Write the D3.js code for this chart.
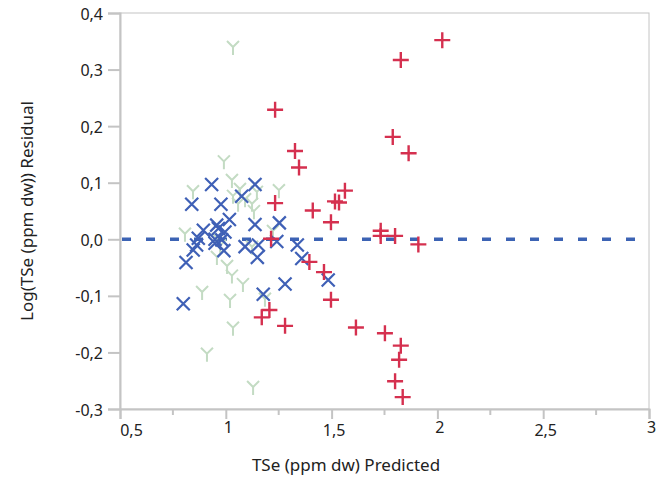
<!DOCTYPE html>
<html>
<head>
<meta charset="utf-8">
<script src="https://cdn.jsdelivr.net/npm/d3@7"></script>
<style>
  body { margin: 0; background: #fff; }
  svg text { font-family: "Noto Sans", "Open Sans", sans-serif; fill: #222; }
</style>
</head>
<body>
<div id="chart"></div>
<script>
// predicted TSe (x) and log residual (y)
const redX = [2.023, 1.827, 1.233, 1.789, 1.327, 1.864, 1.346, 1.563, 1.516, 1.535,
  1.233, 1.411, 1.497, 1.732, 1.732, 1.800, 1.910, 1.214, 1.395, 1.464,
  1.497, 1.206, 1.170, 1.280, 1.615, 1.752, 1.827, 1.819, 1.800, 1.836];
const redY = [0.352, 0.317, 0.229, 0.181, 0.156, 0.152, 0.127, 0.086, 0.067, 0.065,
  0.064, 0.051, 0.030, 0.015, 0.006, 0.006, -0.009, 0.001, -0.040, -0.058,
  -0.107, -0.125, -0.138, -0.153, -0.156, -0.166, -0.188, -0.213, -0.251, -0.279];

const blueX = [0.933, 1.138, 0.839, 0.977, 1.075, 1.017, 1.138, 1.253, 0.894, 0.957,
  0.965, 0.996, 0.870, 0.949, 0.981, 0.862, 0.846, 0.812, 0.949, 0.991,
  1.091, 1.154, 1.149, 1.241, 1.338, 1.359, 1.280, 1.177, 0.799, 1.484];
const blueY = [0.097, 0.097, 0.062, 0.062, 0.076, 0.035, 0.026, 0.029, 0.016, 0.025,
  0.019, 0.013, 0.002, 0.000, -0.001, -0.010, -0.019, -0.041, -0.007, -0.020,
  -0.013, -0.010, -0.032, -0.004, -0.010, -0.034, -0.079, -0.097, -0.114, -0.072];

const greenX = [1.034, 0.991, 1.029, 1.067, 0.845, 1.147, 1.251, 1.034, 1.058, 1.124,
  1.133, 1.091, 0.807, 1.223, 0.963, 0.973, 1.124, 0.958, 1.006, 1.029,
  1.081, 0.888, 1.020, 1.185, 1.034, 0.911, 1.129];
const greenY = [0.338, 0.136, 0.103, 0.087, 0.083, 0.082, 0.085, 0.075, 0.061, 0.061,
  0.048, 0.069, 0.008, 0.013, -0.001, -0.013, -0.015, -0.033, -0.049, -0.066,
  -0.081, -0.095, -0.109, -0.107, -0.158, -0.204, -0.263];

const xTicks = [0.5, 1, 1.5, 2, 2.5, 3];
const xMinor = [0.75, 1.25, 1.75, 2.25, 2.75];
const yTicks = [-0.3, -0.2, -0.1, 0, 0.1, 0.2, 0.3, 0.4];

const width = 658, height = 479;
const margin = {top: 13, right: 9, bottom: 70, left: 120};

const svg = d3.select("#chart").append("svg")
  .attr("width", width)
  .attr("height", height);

const x = d3.scaleLinear().domain([0.5, 3]).range([margin.left, width - margin.right]);
const y = d3.scaleLinear().domain([-0.3, 0.4]).range([height - margin.bottom, margin.top]);

const fmt = v => d3.format(".1f")(v).replace(".", ",").replace("−", "-");
const fmtX = v => String(v).replace(".", ",");
const axisColor = "#c4c4c4";

// frame
svg.append("rect")
  .attr("x", x(0.5)).attr("y", y(0.4))
  .attr("width", x(3) - x(0.5)).attr("height", y(-0.3) - y(0.4))
  .attr("fill", "none").attr("stroke", axisColor).attr("stroke-width", 1);

// y axis
const yAxis = d3.axisLeft(y).tickValues(yTicks).tickSize(12).tickPadding(5).tickFormat(fmt);
const yG = svg.append("g").attr("transform", `translate(${x(0.5)},0)`).call(yAxis);
yG.select(".domain").attr("stroke", axisColor).attr("stroke-width", 2);
yG.selectAll(".tick line").attr("stroke", axisColor).attr("stroke-width", 2);
yG.selectAll(".tick text").attr("font-size", 16).attr("fill", "#222").attr("dy", "0.38em")
  .style("font-family", "'Noto Sans', sans-serif");

// x axis
const xAxis = d3.axisBottom(x).tickValues(xTicks).tickSize(10).tickPadding(6).tickFormat(fmtX);
const xG = svg.append("g").attr("transform", `translate(0,${y(-0.3)})`).call(xAxis);
xG.select(".domain").attr("stroke", axisColor).attr("stroke-width", 2);
xG.selectAll(".tick line").attr("stroke", axisColor).attr("stroke-width", 2);
xG.selectAll(".tick text").attr("font-size", 16).attr("fill", "#222")
  .style("font-family", "'Noto Sans', sans-serif")
  .attr("dx", d => d === 0.5 ? 11 : 2)
  .attr("dy", d => Number.isInteger(d) ? "0.5em" : "0.71em");

svg.append("g").selectAll("line").data(xMinor).join("line")
  .attr("x1", d => x(d)).attr("x2", d => x(d))
  .attr("y1", y(-0.3)).attr("y2", y(-0.3) + 6)
  .attr("stroke", axisColor).attr("stroke-width", 2);

// axis titles
svg.append("text")
  .attr("x", 346).attr("y", 471)
  .attr("text-anchor", "middle").attr("font-size", 17)
  .text("TSe (ppm dw) Predicted");
svg.append("text")
  .attr("transform", `translate(33,${y(0.05)}) rotate(-90)`)
  .attr("text-anchor", "middle").attr("font-size", 17)
  .text("Log(TSe (ppm dw)) Residual");

// zero reference line
svg.append("line")
  .attr("x1", x(0.5) + 2).attr("x2", x(3))
  .attr("y1", y(0)).attr("y2", y(0))
  .attr("stroke", "#3c63b4").attr("stroke-width", 3.5)
  .attr("stroke-dasharray", "9,15");

// markers
const greenPts = greenX.map((v, i) => [v, greenY[i]]);
const bluePts = blueX.map((v, i) => [v, blueY[i]]);
const redPts = redX.map((v, i) => [v, redY[i]]);

svg.append("g").selectAll("path").data(greenPts).join("path")
  .attr("transform", d => `translate(${x(d[0])},${y(d[1])})`)
  .attr("d", "M-6,-7L0,-1L6,-7M0,-1L0,7")
  .attr("fill", "none").attr("stroke", "#c3dbc3").attr("stroke-width", 2);

svg.append("g").selectAll("path").data(bluePts).join("path")
  .attr("transform", d => `translate(${x(d[0])},${y(d[1])})`)
  .attr("d", "M-6.5,-6.5L6.5,6.5M-6.5,6.5L6.5,-6.5")
  .attr("fill", "none").attr("stroke", "#3f60b6").attr("stroke-width", 2.2);

svg.append("g").selectAll("path").data(redPts).join("path")
  .attr("transform", d => `translate(${x(d[0])},${y(d[1])})`)
  .attr("d", "M-8,0L8,0M0,-8L0,8")
  .attr("fill", "none").attr("stroke", "#d5304f").attr("stroke-width", 2.4);
</script>
</body>
</html>
